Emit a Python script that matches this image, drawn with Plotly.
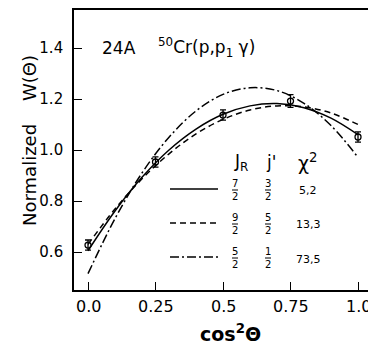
import plotly.graph_objects as go

# Measured angular distribution (normalized W(theta) vs cos^2 theta)
cos2_data = [0.0, 0.25, 0.5, 0.75, 1.0]
w_data = [0.627, 0.953, 1.137, 1.192, 1.051]
w_err = [0.02, 0.02, 0.02, 0.025, 0.02]

# Fitted curves for the three spin assignments, sampled on a cos^2 grid
cos2_grid = [0.0, 0.1, 0.2, 0.3, 0.4, 0.5, 0.6, 0.7, 0.8, 0.9, 1.0]
w_fit_72_32 = [0.605, 0.761, 0.893, 1.000, 1.082, 1.140, 1.173, 1.182, 1.166, 1.125, 1.060]
w_fit_92_52 = [0.630, 0.769, 0.887, 0.985, 1.063, 1.120, 1.157, 1.173, 1.169, 1.145, 1.100]
w_fit_52_12 = [0.515, 0.731, 0.910, 1.050, 1.153, 1.218, 1.244, 1.233, 1.183, 1.096, 0.971]

# Legend table entries: (J_R numerator, j' numerator, chi^2, dash style)
legend_rows = [
    ("7", "3", "5,2", "solid"),
    ("9", "5", "13,3", "6px,4px"),
    ("5", "1", "73,5", "9px,3px,2px,3px"),
]

x_ticks = [0.0, 0.25, 0.5, 0.75, 1.0]
x_ticklabels = ["0.0", "0.25", "0.5", "0.75", "1.0"]
y_ticks = [0.6, 0.8, 1.0, 1.2, 1.4]
y_ticklabels = ["0.6", "0.8", "1.0", "1.2", "1.4"]

W, H = 368, 348
ML, MR, MT, MB = 74, 0, 10, 58
PW, PH = W - ML - MR, H - MT - MB
FONT = "DejaVu Sans"
X_RANGE = [-0.0519, 1.037]


def px(x):
    return (x - ML) / PW


def py(y):
    return (H - MB - y) / PH


fig = go.Figure()

for ys, dash in [(w_fit_72_32, "solid"), (w_fit_92_52, "6px,4px"),
                 (w_fit_52_12, "9px,3px,2px,3px")]:
    fig.add_trace(go.Scatter(
        x=cos2_grid, y=ys, mode="lines",
        line=dict(color="black", width=1.5, dash=dash, shape="spline", smoothing=1.0),
        showlegend=False, hoverinfo="skip"))

fig.add_trace(go.Scatter(
    x=cos2_data, y=w_data, mode="markers",
    marker=dict(symbol="circle-open", size=6, color="black", line=dict(width=1.3)),
    error_y=dict(type="data", array=w_err, color="black", thickness=1.3, width=3),
    showlegend=False))

annotations = []
shapes = []

# x tick labels drawn as text so the last one may run past the page edge
for xv, lab in zip(x_ticks, x_ticklabels):
    annotations.append(dict(x=xv, y=py(306), xref="x", yref="paper",
                            text=lab, showarrow=False, xanchor="center",
                            yanchor="middle",
                            font=dict(family=FONT, size=16, color="black")))

# Reaction label
annotations.append(dict(x=px(100), y=py(48), xref="paper", yref="paper",
                        text="24A", showarrow=False, xanchor="left", yanchor="middle",
                        font=dict(family=FONT, size=17, color="black")))
annotations.append(dict(x=px(156), y=py(48), xref="paper", yref="paper",
                        text="<sup>50</sup>Cr(p,p<sub>1</sub> γ)", showarrow=False,
                        xanchor="left", yanchor="middle",
                        font=dict(family=FONT, size=17, color="black")))

# Axis titles
annotations.append(dict(x=px(29), y=py(141), xref="paper", yref="paper",
                        text="Normalized    W(Θ)", showarrow=False, textangle=-90,
                        xanchor="center", yanchor="middle",
                        font=dict(family=FONT, size=18, color="black")))
annotations.append(dict(x=px(230), y=py(333), xref="paper", yref="paper",
                        text="<b>cos<sup>2</sup>Θ</b>", showarrow=False,
                        xanchor="center", yanchor="middle",
                        font=dict(family=FONT, size=19, color="black")))

# Legend table header
hdr_y = 162
annotations.append(dict(x=px(241), y=py(hdr_y), xref="paper", yref="paper",
                        text="J<sub>R</sub>", showarrow=False, xanchor="center",
                        yanchor="middle", font=dict(family=FONT, size=17, color="black")))
annotations.append(dict(x=px(271), y=py(hdr_y), xref="paper", yref="paper",
                        text="j'", showarrow=False, xanchor="center",
                        yanchor="middle", font=dict(family=FONT, size=17, color="black")))
annotations.append(dict(x=px(307), y=py(hdr_y), xref="paper", yref="paper",
                        text="χ<sup>2</sup>", showarrow=False, xanchor="center",
                        yanchor="middle", font=dict(family=FONT, size=19, color="black")))

row_y = [189, 223, 257]
for (jr, jp, chi, dash), yc in zip(legend_rows, row_y):
    shapes.append(dict(type="line", xref="paper", yref="paper",
                       x0=px(170), x1=px(218), y0=py(yc), y1=py(yc),
                       line=dict(color="black", width=1.5, dash=dash)))
    for xc, num in [(235, jr), (268, jp)]:
        annotations.append(dict(x=px(xc), y=py(yc - 6), xref="paper", yref="paper",
                                text=num, showarrow=False, xanchor="center",
                                yanchor="middle",
                                font=dict(family=FONT, size=10, color="black")))
        annotations.append(dict(x=px(xc), y=py(yc + 7), xref="paper", yref="paper",
                                text="2", showarrow=False, xanchor="center",
                                yanchor="middle",
                                font=dict(family=FONT, size=10, color="black")))
        shapes.append(dict(type="line", xref="paper", yref="paper",
                           x0=px(xc - 3), x1=px(xc + 3), y0=py(yc + 1), y1=py(yc + 1),
                           line=dict(color="black", width=1)))
    annotations.append(dict(x=px(308), y=py(yc + 2), xref="paper", yref="paper",
                            text=chi, showarrow=False, xanchor="center",
                            yanchor="middle",
                            font=dict(family=FONT, size=11, color="black")))

fig.update_layout(
    width=W, height=H,
    margin=dict(l=ML, r=MR, t=MT, b=MB, pad=0),
    paper_bgcolor="white", plot_bgcolor="white",
    annotations=annotations, shapes=shapes,
    xaxis=dict(range=X_RANGE, tickvals=x_ticks, showticklabels=False,
               ticks="inside", ticklen=8, tickwidth=1.3, tickcolor="black",
               showline=True, linecolor="black", linewidth=1.6, mirror=True,
               showgrid=False, zeroline=False),
    yaxis=dict(range=[0.451, 1.549], tickvals=y_ticks, ticktext=y_ticklabels,
               ticks="inside", ticklen=8, tickwidth=1.3, tickcolor="black",
               showline=True, linecolor="black", linewidth=1.6, mirror=False,
               showgrid=False, zeroline=False, ticklabelstandoff=6,
               tickfont=dict(family=FONT, size=15, color="black")),
)

fig.write_html("out.html")
